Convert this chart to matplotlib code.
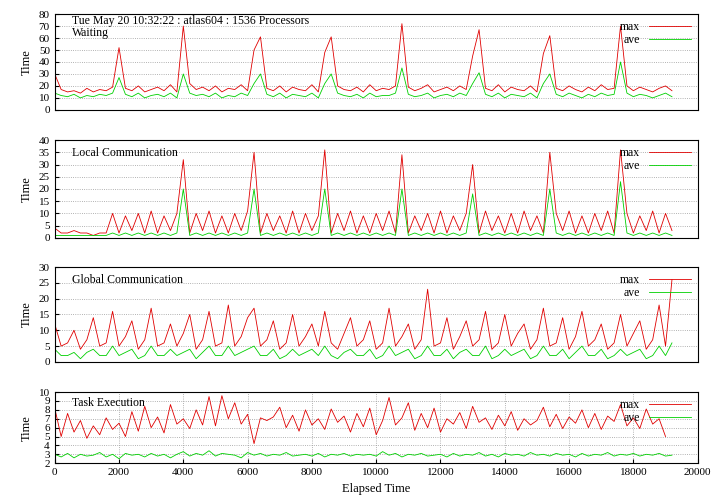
import matplotlib
matplotlib.use("Agg")
import matplotlib.pyplot as plt
import numpy as np

plt.rcParams['font.family'] = ['Liberation Serif', 'DejaVu Serif']

step = 200
wait_max = [30,17,15,16,14,18,15,17,16,19,52,18,16,20,15,17,19,16,21,15,70,22,17,19,16,20,15,18,17,21,16,50,61,18,16,20,15,19,17,16,21,15,48,61,20,17,16,19,15,21,16,18,17,20,72,19,16,18,21,15,17,19,16,20,17,45,67,18,16,21,15,19,17,16,20,15,47,62,18,16,20,17,15,19,16,21,17,18,70,20,16,19,17,15,18,20,16]
wait_ave = [14,12,11,13,10,12,11,13,12,14,27,13,11,14,10,12,13,11,14,10,30,14,12,13,11,14,10,12,11,14,12,22,30,13,11,14,10,13,12,11,14,10,22,30,14,12,11,13,10,14,11,12,12,14,35,13,11,12,14,10,12,13,11,14,12,22,31,13,11,14,10,13,12,11,14,10,22,30,13,11,14,12,10,13,11,14,12,13,40,14,11,13,12,10,12,14,11]
loc_max = [4,2,2,3,2,2,1,2,2,10,2,9,3,10,2,11,2,9,3,10,32,2,10,3,11,2,9,2,10,3,11,35,2,10,3,9,2,11,2,10,3,9,36,2,10,3,11,2,9,2,10,3,11,2,34,2,9,3,10,2,11,2,9,3,10,30,2,11,3,9,2,10,2,11,3,9,2,35,10,3,11,2,9,2,10,3,11,2,36,10,2,9,3,11,2,10,3]
loc_ave = [1,1,1,1,1,1,1,1,1,2,1,2,1,2,1,2,1,2,1,2,20,1,2,1,2,1,2,1,2,1,2,20,1,2,1,2,1,2,1,2,1,2,20,1,2,1,2,1,2,1,2,1,2,1,20,1,2,1,2,1,2,1,2,1,2,18,1,2,1,2,1,2,1,2,1,2,1,20,2,1,2,1,2,1,2,1,2,1,23,2,1,2,1,2,1,2,1]
glob_max = [12,5,6,10,4,7,14,5,6,16,5,8,13,4,7,17,5,6,12,5,9,15,4,7,16,5,6,18,5,8,14,17,5,7,13,4,6,15,5,8,12,5,16,6,4,9,14,5,7,13,4,6,17,5,8,12,4,7,23,5,6,14,4,8,13,5,7,16,4,6,15,5,9,12,4,7,17,5,6,14,4,8,16,5,7,12,4,6,15,5,9,13,4,7,18,5,26]
glob_ave = [4,2,2,3,1,3,4,2,2,5,2,3,4,1,2,5,2,2,4,2,3,4,1,3,5,2,2,5,2,3,4,5,2,2,4,1,2,4,2,3,4,2,5,2,1,3,4,2,2,4,1,2,5,2,3,4,1,2,5,2,2,4,1,3,4,2,2,5,1,2,4,2,3,4,1,2,5,2,2,4,1,3,5,2,2,4,1,2,4,2,3,4,1,2,5,2,6]
task_max = [8.2,5.0,7.6,5.5,6.8,4.8,6.2,5.2,7.1,5.8,6.5,5.0,7.8,5.6,8.4,6.0,7.2,5.4,8.6,6.4,7.0,5.9,8.0,6.3,9.5,6.2,9.6,7.0,8.8,6.4,7.5,4.2,7.1,6.8,7.2,8.3,6.0,7.4,5.6,8.0,6.3,7.0,5.8,8.1,6.6,7.3,5.5,7.6,6.1,8.2,5.2,6.8,9.4,6.3,7.1,8.8,5.7,7.6,6.0,8.2,5.5,7.0,6.4,7.7,5.9,8.4,6.6,7.1,5.8,7.4,6.2,7.8,5.7,7.0,6.3,6.8,8.3,6.1,7.5,5.9,7.2,6.5,8.0,6.0,7.6,5.8,7.3,6.7,8.6,6.2,7.1,5.9,8.1,6.4,7.0,5.0]
task_ave = [3.0,2.7,3.1,2.6,3.0,2.8,2.9,3.2,2.7,3.0,2.5,3.1,2.9,3.0,2.7,3.1,2.8,3.0,2.6,3.0,3.3,2.8,3.1,2.9,3.4,2.8,3.1,3.0,2.9,2.6,3.2,2.9,3.1,2.8,3.0,2.9,3.2,2.8,2.9,3.0,2.8,3.1,2.7,3.0,2.9,3.1,2.8,3.0,2.9,3.0,2.8,3.3,2.9,3.1,2.7,3.0,2.9,3.1,2.8,2.9,3.0,2.7,3.1,2.8,3.0,2.9,3.2,2.8,3.0,2.7,3.1,2.9,3.0,2.8,3.2,2.9,3.0,2.8,3.1,2.9,3.0,2.7,3.1,2.8,3.0,2.9,3.2,2.8,3.0,2.9,3.1,2.8,3.0,2.9,3.1,2.8,2.9]

panels = [
    ("Waiting", wait_max, wait_ave, (0, 80), 10, (0.782, 0.972)),
    ("Local Communication", loc_max, loc_ave, (0, 40), 5, (0.528, 0.722)),
    ("Global Communication", glob_max, glob_ave, (0, 30), 5, (0.282, 0.470)),
    ("Task Execution", task_max, task_ave, (2, 10), 1, (0.081, 0.222)),
]

fig = plt.figure(figsize=(7.2, 5.04), dpi=100)
for k, (name, mx, av, ylim, ystep, (b, t)) in enumerate(panels):
    ax = fig.add_axes([0.076, b, 0.893, t - b])
    ax.plot(np.arange(len(mx)) * step, mx, color='#e00000', lw=0.6, label='max')
    ax.plot(np.arange(len(av)) * step, av, color='#00d000', lw=0.6, label='ave')
    ax.set_xlim(0, 20000)
    ax.set_ylim(*ylim)
    ax.set_yticks(np.arange(ylim[0], ylim[1] + 0.01, ystep))
    ax.yaxis.grid(True, linestyle=':', color='#999999', lw=0.6)
    ax.set_ylabel('Time', fontsize=9)
    ax.tick_params(labelsize=8, direction='in', length=3)
    ax.set_xticks(np.arange(0, 20001, 2000))
    if k < 3:
        ax.tick_params(axis='x', labelbottom=False, length=0)
    else:
        ax.xaxis.grid(True, linestyle=':', color='#999999', lw=0.6)
        ax.set_xlabel('Elapsed Time', fontsize=9)
    if k == 0:
        ax.text(0.027, 0.99, 'Tue May 20 10:32:22 : atlas604 : 1536 Processors', transform=ax.transAxes,
                fontsize=8.5, va='top')
        ax.text(0.027, 0.87, name, transform=ax.transAxes, fontsize=8.5, va='top')
    else:
        ax.text(0.027, 0.93, name, transform=ax.transAxes, fontsize=8.5, va='top')
    ax.legend(loc='upper right', frameon=False, fontsize=8.5, markerfirst=False,
              handlelength=3.5, borderaxespad=0.2, labelspacing=0.1)
fig.savefig('out.png', dpi=100)
